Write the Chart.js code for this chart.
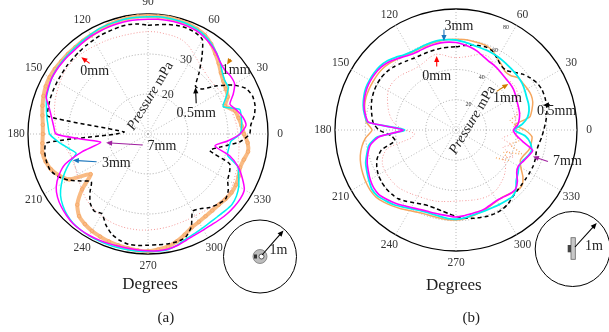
<!DOCTYPE html>
<html><head><meta charset="utf-8">
<script src="https://cdn.jsdelivr.net/npm/chart.js@4.4.0/dist/chart.umd.min.js"></script>
<style>
html,body{margin:0;padding:0;background:#fff;}
#wrap{position:relative;width:609px;height:332px;overflow:hidden;background:#fff;}
#ca{position:absolute;left:0;top:0;width:300px;height:332px;}
#cb{position:absolute;left:300px;top:0;width:309px;height:332px;}
</style></head><body>
<div id="wrap">
<div id="ca"><canvas id="chartA"></canvas></div>
<div id="cb"><canvas id="chartB"></canvas></div>
</div>
<script>
// ---- categories: measurement angle in degrees (counter-clockwise from 0 at right)
const angles = [0,5,10,15,20,25,30,35,40,45,50,55,60,65,70,75,80,85,90,95,100,105,110,115,120,125,130,135,140,145,150,155,160,165,170,175,180,185,190,195,200,205,210,215,220,225,230,235,240,245,250,255,260,265,270,275,280,285,290,295,300,305,310,315,320,325,330,335,340,345,350,355];
const degreeLabels = [0,30,60,90,120,150,180,210,240,270,300,330];
const ticksA = [20,30];
const ticksB = [20,40,60,80];

// ---- (a) pressure (mPa) per angle
const a0mm  = [32.5,32.3,32.0,31.7,31.3,31.2,31.0,30.7,30.6,30.8,31.3,32.0,33.0,34.2,35.0,35.3,35.4,35.6,35.6,35.5,35.4,35.4,35.5,35.6,35.7,35.9,36.1,36.2,36.2,35.9,35.5,35.1,34.7,34.2,33.7,33.2,32.8,31.8,30.8,30.2,29.8,30.0,30.5,31.0,31.5,32.3,32.8,33.2,33.5,33.8,34.0,34.1,34.1,34.1,34.0,33.9,33.8,33.7,33.6,33.6,33.6,33.8,34.2,34.6,35.0,35.0,34.6,34.1,33.8,33.4,33.1,32.8];
const a05mm = [35.4,35.8,37.0,37.7,37.8,37.0,34.5,31.0,27.5,26.8,29.8,33.5,37.2,38.0,38.2,38.1,37.8,37.4,37.2,37.6,37.8,37.7,37.5,37.4,37.2,37.0,36.8,36.6,36.5,36.3,36.2,36.1,36.0,35.8,35.4,16.0,18.0,35.5,36.2,36.3,36.1,35.0,33.0,30.5,28.5,30.5,32.5,33.5,33.0,35.0,36.6,37.5,38.0,38.0,37.8,37.8,37.9,37.9,37.5,35.6,32.3,32.8,34.0,34.8,35.3,34.5,33.0,32.5,31.7,26.0,28.5,33.0];
const a1mm  = [34.0,33.5,33.0,32.5,30.5,32.0,32.5,33.0,33.8,35.0,36.2,37.5,38.5,39.0,39.3,39.4,39.5,39.5,39.5,39.5,39.4,39.2,39.0,38.7,38.5,38.4,38.3,38.3,38.3,38.4,38.4,38.2,37.8,37.3,36.8,36.4,36.3,36.5,36.8,36.5,35.8,34.5,32.7,27.5,31.5,35.0,36.8,37.5,38.0,38.3,38.6,38.8,39.0,39.2,39.3,39.0,38.6,37.8,36.8,35.8,35.4,35.1,35.0,35.0,35.3,35.5,35.4,35.0,34.5,34.8,35.4,35.0];
const a3mm  = [33.0,33.5,33.7,33.7,30.0,31.5,33.2,33.4,34.2,35.5,36.6,37.6,38.4,38.9,39.2,39.3,39.4,39.4,39.3,39.3,39.3,39.2,39.1,39.0,38.7,38.5,38.3,38.2,38.1,38.0,37.8,37.4,37.0,36.3,35.7,35.1,34.6,32.5,30.3,28.6,30.8,33.0,35.0,36.7,37.8,38.6,39.1,39.3,39.4,39.4,39.4,39.4,39.4,39.4,39.4,39.4,39.3,38.7,37.9,37.5,37.2,37.0,37.0,37.2,37.4,37.0,36.2,35.0,33.9,30.6,30.5,30.8];
const a7mm  = [33.0,34.6,34.1,33.0,31.8,33.5,35.0,35.2,35.0,35.5,36.5,37.3,38.0,38.5,38.7,38.8,38.8,38.8,38.7,38.7,38.7,38.6,38.5,38.4,38.3,38.1,37.9,37.9,37.9,37.9,37.8,37.5,37.1,35.6,34.5,33.7,33.0,26.0,22.0,27.0,32.0,34.6,36.5,37.6,38.3,38.8,39.2,39.3,39.3,39.2,39.1,39.0,39.0,39.1,39.2,39.3,39.2,38.8,38.2,37.8,37.7,37.7,37.9,38.1,38.2,38.2,37.8,36.0,34.0,31.2,27.0,30.0];

// ---- (b) pressure (mPa) per angle
const b0mm  = [38.0,38.5,40.0,41.5,43.0,45.0,47.0,48.5,48.3,47.8,47.8,48.2,50.0,52.8,53.0,51.5,49.5,48.3,47.8,48.5,50.5,51.8,51.0,49.5,48.8,49.0,50.0,51.3,52.2,52.4,51.8,50.0,48.0,46.0,43.5,40.0,34.0,27.5,30.0,47.0,51.5,53.7,54.3,54.3,54.2,53.8,52.7,51.5,50.5,49.8,49.3,48.8,48.0,47.5,47.0,47.0,47.3,47.8,48.3,48.6,48.3,47.5,46.0,44.5,42.5,40.0,36.0,42.0,33.0,38.0,31.0,36.0];
const b05mm = [58.0,59.5,61.0,62.0,62.6,62.8,62.0,60.0,57.5,54.0,51.5,52.0,54.5,57.5,58.3,57.8,57.0,56.0,55.0,55.0,55.0,54.8,54.7,54.7,55.0,56.0,57.3,58.7,59.8,60.4,60.4,60.0,59.2,58.0,56.5,55.0,51.0,43.0,41.0,51.0,55.5,57.8,59.3,60.0,60.3,60.0,59.3,57.5,55.5,54.0,53.3,53.5,54.3,55.5,57.0,58.3,59.3,60.0,60.7,61.0,60.8,59.8,58.0,57.0,56.5,56.3,56.3,56.3,55.8,55.0,55.5,56.8];
const b1mm  = [45.6,39.0,49.5,52.0,54.0,54.8,54.5,54.0,53.7,51.0,50.5,52.5,54.8,57.5,59.2,59.5,59.8,60.0,60.0,60.0,59.8,59.5,59.0,58.8,59.0,59.8,61.0,62.3,63.2,63.5,63.5,63.5,63.3,62.5,61.0,59.5,55.5,60.0,63.2,65.5,67.0,68.0,68.8,69.3,69.0,67.5,65.5,63.5,61.5,60.0,59.2,59.0,59.2,59.5,59.5,59.0,58.0,57.0,56.0,55.0,54.2,54.0,55.0,56.8,57.0,54.0,49.5,47.0,48.0,50.0,50.5,50.4];
const b1mmDot = [41.0,39.0,36.5,44.0,null,null,null,null,null,null,null,null,null,null,null,null,null,null,null,null,null,null,null,null,null,null,null,null,null,null,null,null,null,null,null,null,null,null,null,null,null,null,null,null,null,null,null,null,null,null,null,null,null,null,null,null,null,null,null,null,null,null,null,null,null,32.0,40.0,35.0,46.0,37.0,42.0,40.0];
const b3mm  = [38.5,44.0,48.0,50.0,51.0,51.5,52.5,53.5,54.0,54.3,54.6,55.2,55.8,56.2,56.5,56.8,57.5,58.5,59.5,60.0,60.3,60.2,59.8,59.4,59.5,60.5,62.5,64.5,65.6,66.0,66.0,65.8,64.8,63.5,61.5,58.5,34.0,52.0,58.5,61.0,63.5,65.0,66.5,68.0,67.8,66.0,64.3,62.0,60.0,58.5,57.8,57.8,58.2,58.8,59.0,58.5,57.5,57.0,56.7,56.7,57.0,57.3,57.8,56.0,52.0,50.0,48.0,48.5,50.5,51.7,50.0,46.0];
const b7mm  = [37.9,41.0,42.5,43.5,44.0,44.5,45.5,46.5,47.0,47.2,47.8,48.8,49.7,50.5,52.0,54.0,55.5,56.8,57.8,58.3,58.5,58.3,58.0,57.7,58.0,59.3,61.3,63.3,64.6,65.2,65.3,65.0,64.2,63.0,61.0,58.0,35.0,51.0,57.5,60.3,62.5,64.0,65.5,66.5,66.5,64.8,63.0,61.0,59.2,57.8,57.0,56.8,56.8,57.0,57.5,57.0,56.3,56.0,55.5,54.5,53.8,54.2,55.2,55.5,53.0,49.0,47.6,49.0,50.8,52.5,45.0,40.0];

// ---- radar ordering: index 0 at top (90 deg), going clockwise (decreasing angle)
const N = angles.length;
const idx90 = angles.indexOf(90);
const order = angles.map((_, i) => ((idx90 - i) % N + N) % N);
const radarLabels = order.map(k => angles[k]);
const toRadar = vals => order.map(k => vals[k]);

const FONT = '"Liberation Serif", "Times New Roman", serif';

function arrow(ctx, x1, y1, x2, y2, color) {
  const a = Math.atan2(y2 - y1, x2 - x1), L = 6, W = 2.6;
  ctx.save();
  ctx.strokeStyle = color; ctx.fillStyle = color; ctx.lineWidth = 1.1; ctx.setLineDash([]);
  ctx.beginPath(); ctx.moveTo(x1, y1); ctx.lineTo(x2 - L * 0.8 * Math.cos(a), y2 - L * 0.8 * Math.sin(a)); ctx.stroke();
  ctx.beginPath(); ctx.moveTo(x2, y2);
  ctx.lineTo(x2 - L * Math.cos(a) + W * Math.sin(a), y2 - L * Math.sin(a) - W * Math.cos(a));
  ctx.lineTo(x2 - L * Math.cos(a) - W * Math.sin(a), y2 - L * Math.sin(a) + W * Math.cos(a));
  ctx.closePath(); ctx.fill();
  ctx.restore();
}
function polarPt(s, deg, val) {
  const d = s.getDistanceFromCenterForValue(val), a = deg * Math.PI / 180;
  return [s.xCenter + d * Math.cos(a), s.yCenter - d * Math.sin(a)];
}

const decoPlugin = {
  id: 'deco',
  beforeDatasetsDraw(chart, args, o) {
    const ctx = chart.ctx, s = chart.scales.r, R = s.drawingArea;
    ctx.save();
    ctx.fillStyle = '#333'; ctx.textAlign = 'center'; ctx.textBaseline = 'middle';
    ctx.font = o.tickFont + 'px ' + FONT;
    o.ticks.forEach(v => {
      let d = Math.min(s.getDistanceFromCenterForValue(v) + o.tickShift, R - 7);
      const a = o.tickAngle * Math.PI / 180;
      ctx.fillText(String(v), s.xCenter + d * Math.cos(a), s.yCenter - d * Math.sin(a));
    });
    // rotated axis title
    ctx.translate(s.xCenter + o.pressure[0], s.yCenter + o.pressure[1]);
    ctx.rotate(-o.pressure[2] * Math.PI / 180);
    ctx.fillStyle = '#222';
    const f1 = 'italic 14px ' + FONT, f2 = '14px ' + FONT;
    ctx.font = f1; const w1 = ctx.measureText('Pressure').width;
    ctx.font = f2; const w2 = ctx.measureText(' mPa').width;
    ctx.textAlign = 'left';
    ctx.font = f1; ctx.fillText('Pressure', -(w1 + w2) / 2, 0);
    ctx.font = f2; ctx.fillText(' mPa', -(w1 + w2) / 2 + w1, 0);
    ctx.restore();
  },
  afterDraw(chart, args, o) {
    const ctx = chart.ctx, s = chart.scales.r, R = s.drawingArea;
    const cx = s.xCenter, cy = s.yCenter;
    ctx.save();
    // angle labels
    ctx.font = '11.5px ' + FONT; ctx.fillStyle = '#333'; ctx.textAlign = 'center'; ctx.textBaseline = 'middle';
    degreeLabels.forEach(t => {
      const a = t * Math.PI / 180;
      ctx.fillText(String(t), cx + 1.1 * R * Math.cos(a), cy - 1.1 * R * Math.sin(a));
    });
    // annotations
    o.notes.forEach(n => {
      const [tx, ty] = polarPt(s, n.at[0], n.at[1]);
      arrow(ctx, tx + n.tail[0], ty + n.tail[1], tx, ty, n.color);
      ctx.font = '14px ' + FONT; ctx.fillStyle = '#222';
      ctx.fillText(n.text, tx + n.label[0], ty + n.label[1]);
    });
    // captions
    ctx.font = '17px ' + FONT; ctx.fillStyle = '#222';
    ctx.fillText('Degrees', o.degrees[0], o.degrees[1]);
    ctx.font = '15px ' + FONT;
    ctx.fillText(o.caption, o.capPos[0], o.capPos[1]);
    // inset sketch
    const ins = o.inset;
    ctx.strokeStyle = '#000'; ctx.lineWidth = 1;
    ctx.beginPath(); ctx.arc(ins.c[0], ins.c[1], ins.r, 0, 2 * Math.PI); ctx.stroke();
    if (ins.kind === 'disk') {
      ctx.fillStyle = '#bdbdbd'; ctx.strokeStyle = '#777'; ctx.lineWidth = 0.8;
      ctx.beginPath(); ctx.arc(ins.c[0], ins.c[1], 7, 0, 2 * Math.PI); ctx.fill(); ctx.stroke();
      ctx.fillStyle = '#fff'; ctx.strokeStyle = '#333';
      ctx.beginPath(); ctx.arc(ins.c[0] + 1.5, ins.c[1], 2.5, 0, 2 * Math.PI); ctx.fill(); ctx.stroke();
      ctx.fillStyle = '#333'; ctx.fillRect(ins.c[0] - 6, ins.c[1] - 2, 3, 4);
    } else {
      ctx.fillStyle = '#c8c8c8'; ctx.strokeStyle = '#666'; ctx.lineWidth = 0.8;
      ctx.fillRect(ins.c[0] - 1.7, ins.c[1] - 11.3, 4.3, 21.6); ctx.strokeRect(ins.c[0] - 1.7, ins.c[1] - 11.3, 4.3, 21.6);
      ctx.fillStyle = '#444'; ctx.fillRect(ins.c[0] - 5, ins.c[1] - 4, 3.3, 7.3);
    }
    arrow(ctx, ins.from[0], ins.from[1], ins.to[0], ins.to[1], '#000');
    ctx.font = '14px ' + FONT; ctx.fillStyle = '#222'; ctx.textAlign = 'center';
    ctx.fillText('1m', ins.label[0], ins.label[1]);
    ctx.restore();
  }
};

function rScale(min, max, step) {
  return {
    min: min, max: max,
    ticks: { display: false, stepSize: step },
    pointLabels: { display: false },
    grid: {
      circular: true,
      color: c => (c.tick && c.tick.value === max) ? '#000' : '#a0a0a0',
      lineWidth: c => (c.tick && c.tick.value === max) ? 1.3 : 0.9
    },
    border: { dash: c => (c.tick && c.tick.value === max) ? [] : [1, 2] },
    angleLines: {
      display: true,
      color: c => (c.index % 6 === 0) ? '#a8a8a8' : 'rgba(0,0,0,0)',
      lineWidth: c => (c.index % 6 === 0) ? 0.8 : 0,
      borderDash: [1, 2]
    }
  };
}

function ds(label, vals, color, width, dash, extra) {
  return Object.assign({
    label: label, data: toRadar(vals), borderColor: color, borderWidth: width,
    borderDash: dash, fill: false, tension: 0.2, pointRadius: 0, pointHoverRadius: 0,
    spanGaps: false
  }, extra || {});
}

Chart.defaults.font.family = FONT;

new Chart(document.getElementById('chartA'), {
  type: 'radar',
  data: {
    labels: radarLabels,
    datasets: [
      ds('7mm', a7mm, '#ff00ff', 1.5, []),
      ds('3mm', a3mm, '#00f0f0', 1.5, []),
      ds('0.5mm', a05mm, '#000000', 1.5, [4, 3]),
      ds('0mm', a0mm, '#f49a9a', 1, [1, 2]),
      ds('1mm', a1mm, '#f9bb84', 4, [], { pointRadius: 1.8, pointBorderWidth: 0.9, pointBorderColor: '#f5a868', pointBackgroundColor: 'rgba(255,255,255,0)' })
    ]
  },
  options: {
    responsive: true, maintainAspectRatio: false, animation: false, devicePixelRatio: 1,
    layout: { padding: { left: 28, right: 32, top: 14, bottom: 78 } },
    scales: { r: rScale(10, 40, 10) },
    plugins: {
      legend: { display: false }, tooltip: { enabled: false },
      deco: {
        ticks: ticksA, tickFont: 12, tickShift: 3.5, tickAngle: 63,
        pressure: [2.5, -38, 59],
        notes: [
          { text: '0mm', color: '#ff0000', at: [131, 35.4], tail: [8.3, 6], label: [13.3, 14.4] },
          { text: '1mm', color: '#d07a00', at: [41.3, 36.3], tail: [3.5, -5.5], label: [9.2, 6.2] },
          { text: '0.5mm', color: '#000000', at: [44.5, 26.65], tail: [0.7, 16], label: [0.7, 26] },
          { text: '7mm', color: '#a020a0', at: [191.8, 20.7], tail: [36.6, 2.3], label: [55.8, 3.3] },
          { text: '3mm', color: '#1a75bc', at: [199.3, 29.9], tail: [23.7, 1.4], label: [43.4, 3] }
        ],
        degrees: [150, 285], caption: '(a)', capPos: [165.8, 318],
        inset: { kind: 'disk', c: [260, 256.5], r: 36.5, from: [262, 255], to: [283.5, 230.5], label: [278.5, 250] }
      }
    }
  },
  plugins: [decoPlugin]
});

new Chart(document.getElementById('chartB'), {
  type: 'radar',
  data: {
    labels: radarLabels,
    datasets: [
      ds('7mm', b7mm, '#ff00ff', 1.6, []),
      ds('3mm', b3mm, '#00f0f0', 1.8, []),
      ds('0.5mm', b05mm, '#000000', 1.5, [4, 3]),
      ds('0mm', b0mm, '#f49a9a', 1, [1, 2]),
      ds('1mm', b1mm, '#f5a65e', 1.5, []),
      ds('1mm dotted', b1mmDot, '#f5a65e', 1.4, [1, 2])
    ]
  },
  options: {
    responsive: true, maintainAspectRatio: false, animation: false, devicePixelRatio: 1,
    layout: { padding: { left: 35, right: 32, top: 9, bottom: 81 } },
    scales: { r: rScale(0, 80, 20) },
    plugins: {
      legend: { display: false }, tooltip: { enabled: false },
      deco: {
        ticks: ticksB, tickFont: 6, tickShift: -2, tickAngle: 64,
        pressure: [16.5, -10, 59],
        notes: [
          { text: '3mm', color: '#1a75bc', at: [97.7, 59.4], tail: [0, -11.5], label: [15, -14.8] },
          { text: '0mm', color: '#ff0000', at: [104.6, 50.6], tail: [0, 10.5], label: [0, 20.2] },
          { text: '1mm', color: '#d07a00', at: [41.4, 46.1], tail: [-11.6, 7.5], label: [-0.8, 14.5] },
          { text: '0.5mm', color: '#000000', at: [15.8, 59.8], tail: [7, -0.5], label: [13.7, 5.7] },
          { text: '7mm', color: '#a020a0', at: [341, 53.8], tail: [15, 5], label: [34.5, 4.7] }
        ],
        degrees: [153.8, 286], caption: '(b)', capPos: [171.3, 318.3],
        inset: { kind: 'plate', c: [272.7, 249], r: 37.5, from: [275, 247], to: [296.7, 223], label: [294, 246.7] }
      }
    }
  },
  plugins: [decoPlugin]
});
</script>
</body></html>
